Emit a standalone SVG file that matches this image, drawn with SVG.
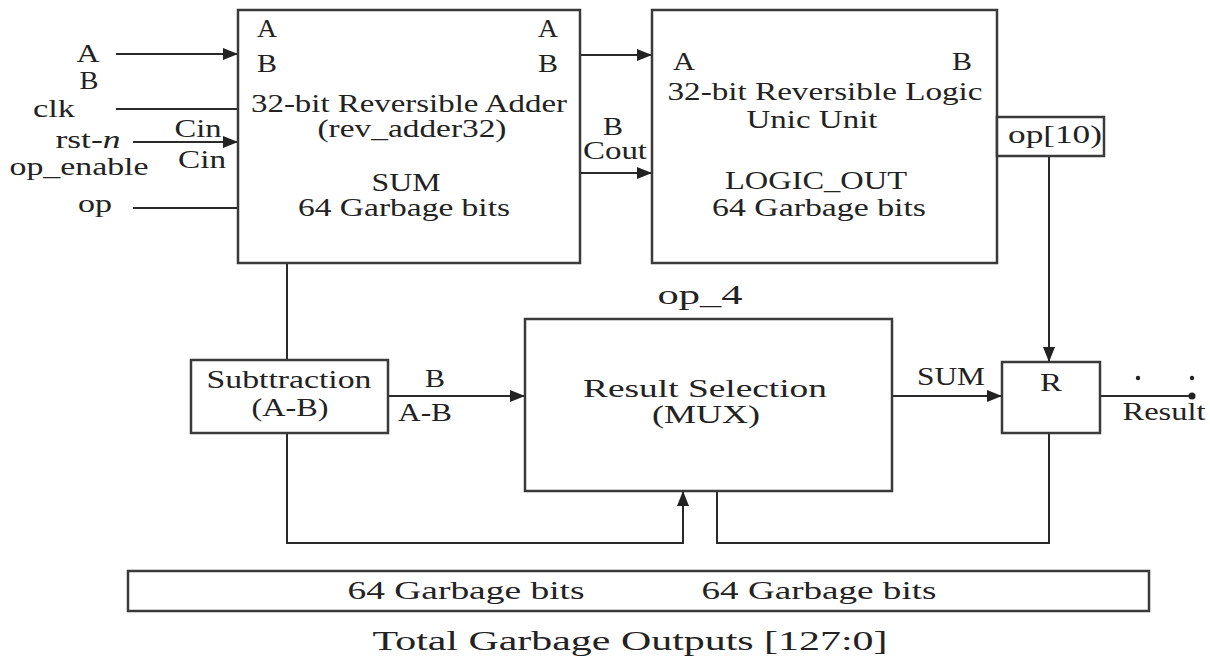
<svg xmlns="http://www.w3.org/2000/svg" width="1210" height="659" viewBox="0 0 1210 659">
<defs>
<marker id="arr" markerUnits="userSpaceOnUse" markerWidth="16" markerHeight="12" refX="15" refY="6" orient="auto">
<path d="M0,0 L15,6 L0,12 z" fill="#222"/>
</marker>
</defs>
<style>
.box{fill:#fff;stroke:#3a3a3a;stroke-width:2.5}
.ln{fill:none;stroke:#2a2a2a;stroke-width:2}
.t{font-family:"Liberation Serif","Times New Roman",serif;font-size:26px;fill:#222;text-anchor:middle}
.big{font-size:28px}
</style>
<rect width="1210" height="659" fill="#fff"/>

<g id="connectors">
<line class="ln" x1="116" y1="54" x2="238" y2="54" marker-end="url(#arr)"/>
<line class="ln" x1="116" y1="109" x2="238" y2="109"/>
<line class="ln" x1="133" y1="142" x2="238" y2="142" marker-end="url(#arr)"/>
<line class="ln" x1="133" y1="208" x2="238" y2="208"/>
<line class="ln" x1="580" y1="55" x2="652" y2="55" marker-end="url(#arr)"/>
<line class="ln" x1="580" y1="173" x2="652" y2="173" marker-end="url(#arr)"/>
<line class="ln" x1="287" y1="263" x2="287" y2="360"/>
<line class="ln" x1="388" y1="396" x2="525" y2="396" marker-end="url(#arr)"/>
<polyline class="ln" points="287,433 287,543 683,543 683,491" marker-end="url(#arr)"/>
<polyline class="ln" points="717,491 717,543 1049,543 1049,433"/>
<line class="ln" x1="892" y1="396" x2="1002" y2="396" marker-end="url(#arr)"/>
<line class="ln" x1="1049" y1="156" x2="1049" y2="362" marker-end="url(#arr)"/>
<line class="ln" x1="1100" y1="396" x2="1190" y2="396"/>
<circle cx="1192" cy="396" r="3.5" fill="#222"/>
<circle cx="1138" cy="378" r="2.2" fill="#222"/>
<circle cx="1192" cy="378" r="2.2" fill="#222"/>
</g>

<g id="inputs">
<text class="t" x="88" y="62" textLength="23" lengthAdjust="spacingAndGlyphs">A</text>
<text class="t" x="89" y="89" textLength="19" lengthAdjust="spacingAndGlyphs">B</text>
<text class="t" x="54" y="117" textLength="42" lengthAdjust="spacingAndGlyphs">clk</text>
<text class="t" x="88" y="148" textLength="65" lengthAdjust="spacingAndGlyphs">rst-<tspan font-style="italic">n</tspan></text>
<text class="t" x="79" y="175" textLength="139" lengthAdjust="spacingAndGlyphs">op_enable</text>
<text class="t" x="95" y="212" textLength="34" lengthAdjust="spacingAndGlyphs">op</text>
<text class="t" x="198" y="137" textLength="47" lengthAdjust="spacingAndGlyphs">Cin</text>
<text class="t" x="202" y="168" textLength="48" lengthAdjust="spacingAndGlyphs">Cin</text>
</g>

<g id="adder">
<rect class="box" x="238" y="10" width="342" height="253"/>
<text class="t" x="267" y="37" textLength="20" lengthAdjust="spacingAndGlyphs">A</text>
<text class="t" x="267" y="72" textLength="20" lengthAdjust="spacingAndGlyphs">B</text>
<text class="t" x="548" y="37" textLength="20" lengthAdjust="spacingAndGlyphs">A</text>
<text class="t" x="548" y="72" textLength="20" lengthAdjust="spacingAndGlyphs">B</text>
<text class="t" x="409" y="112" textLength="316" lengthAdjust="spacingAndGlyphs">32-bit Reversible Adder</text>
<text class="t" x="412" y="137" textLength="189" lengthAdjust="spacingAndGlyphs">(rev_adder32)</text>
<text class="t" x="406" y="191" textLength="69" lengthAdjust="spacingAndGlyphs">SUM</text>
<text class="t" x="404" y="216" textLength="212" lengthAdjust="spacingAndGlyphs">64 Garbage bits</text>
</g>

<g id="adder-out-labels">
<text class="t" x="613" y="135" textLength="20" lengthAdjust="spacingAndGlyphs">B</text>
<text class="t" x="615" y="159" textLength="64" lengthAdjust="spacingAndGlyphs">Cout</text>
</g>

<g id="logic">
<rect class="box" x="652" y="10" width="345" height="253"/>
<text class="t" x="684" y="70" textLength="22" lengthAdjust="spacingAndGlyphs">A</text>
<text class="t" x="962" y="70" textLength="20" lengthAdjust="spacingAndGlyphs">B</text>
<text class="t" x="825" y="100" textLength="315" lengthAdjust="spacingAndGlyphs">32-bit Reversible Logic</text>
<text class="t" x="812" y="128" textLength="131" lengthAdjust="spacingAndGlyphs">Unic Unit</text>
<text class="t" x="816" y="189" textLength="182" lengthAdjust="spacingAndGlyphs">LOGIC_OUT</text>
<text class="t" x="819" y="216" textLength="214" lengthAdjust="spacingAndGlyphs">64 Garbage bits</text>
</g>

<g id="op-box">
<rect class="box" x="997" y="117" width="107" height="39"/>
<text class="t" x="1055" y="143" textLength="94" lengthAdjust="spacingAndGlyphs">op[10)</text>
</g>

<g id="subtraction">
<rect class="box" x="191" y="360" width="197" height="73"/>
<text class="t" x="289" y="388" textLength="165" lengthAdjust="spacingAndGlyphs">Subttraction</text>
<text class="t" x="290" y="416" textLength="77" lengthAdjust="spacingAndGlyphs">(A-B)</text>
<text class="t" x="435" y="387" textLength="20" lengthAdjust="spacingAndGlyphs">B</text>
<text class="t" x="425" y="421" textLength="54" lengthAdjust="spacingAndGlyphs">A-B</text>
</g>

<g id="mux">
<rect class="box" x="525" y="319" width="367" height="172"/>
<text class="t big" x="700" y="304" textLength="85" lengthAdjust="spacingAndGlyphs">op_4</text>
<text class="t" x="705" y="397" textLength="244" lengthAdjust="spacingAndGlyphs">Result Selection</text>
<text class="t" x="706" y="423" textLength="108" lengthAdjust="spacingAndGlyphs">(MUX)</text>
</g>

<g id="r-block">
<text class="t" x="951" y="385" textLength="68" lengthAdjust="spacingAndGlyphs">SUM</text>
<rect class="box" x="1002" y="362" width="98" height="71"/>
<text class="t" x="1051" y="391" textLength="22" lengthAdjust="spacingAndGlyphs">R</text>
<text class="t" x="1164" y="420" textLength="83" lengthAdjust="spacingAndGlyphs">Result</text>
</g>

<g id="garbage">
<rect class="box" x="128" y="571" width="1021" height="40"/>
<text class="t" x="466" y="599" textLength="237" lengthAdjust="spacingAndGlyphs">64 Garbage bits</text>
<text class="t" x="819" y="599" textLength="235" lengthAdjust="spacingAndGlyphs">64 Garbage bits</text>
<text class="t big" x="630" y="650" textLength="515" lengthAdjust="spacingAndGlyphs">Total Garbage Outputs [127:0]</text>
</g>
</svg>
